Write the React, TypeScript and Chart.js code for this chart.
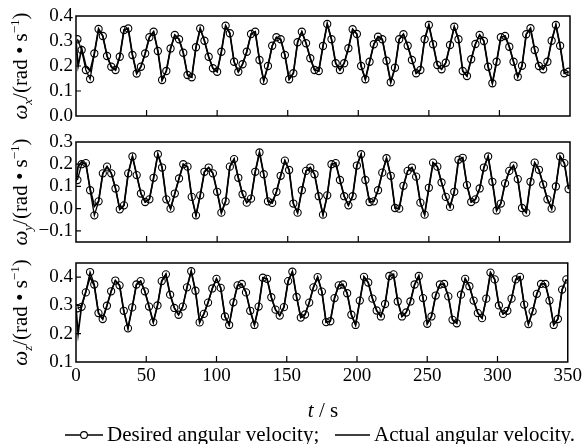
import React, { useEffect, useRef } from 'react';
import { Chart, registerables } from 'chart.js';

Chart.register(...registerables);

const W = 585;
const H = 444;
const FONT = '"Liberation Serif", "Times New Roman", serif';

// sample times of the desired signal (s)
const times = [
  1, 4, 7, 10, 13, 16, 19, 22, 25, 28,
  31, 34, 37, 40, 43, 46, 49, 52, 55, 58,
  61, 64, 67, 70, 73, 76, 79, 82, 85, 88,
  91, 94, 97, 100, 103, 106, 109, 112, 115, 118,
  121, 124, 127, 130, 133, 136, 139, 142, 145, 148,
  151, 154, 157, 160, 163, 166, 169, 172, 175, 178,
  181, 184, 187, 190, 193, 196, 199, 202, 205, 208,
  211, 214, 217, 220, 223, 226, 229, 232, 235, 238,
  241, 244, 247, 250, 253, 256, 259, 262, 265, 268,
  271, 274, 277, 280, 283, 286, 289, 292, 295, 298,
  301, 304, 307, 310, 313, 316, 319, 322, 325, 328,
  331, 334, 337, 340, 343, 346, 349,
];

const wxDesired = [
  0.307, 0.264, 0.184, 0.148, 0.25, 0.348, 0.32, 0.24, 0.197, 0.184,
  0.237, 0.344, 0.35, 0.244, 0.17, 0.197, 0.25, 0.315, 0.337, 0.26,
  0.144, 0.18, 0.27, 0.324, 0.307, 0.253, 0.164, 0.155, 0.275, 0.35,
  0.301, 0.237, 0.191, 0.177, 0.257, 0.361, 0.331, 0.217, 0.177, 0.207,
  0.257, 0.328, 0.337, 0.224, 0.141, 0.2, 0.281, 0.315, 0.307, 0.244,
  0.147, 0.171, 0.295, 0.337, 0.291, 0.231, 0.184, 0.18, 0.28, 0.368,
  0.307, 0.211, 0.184, 0.211, 0.271, 0.347, 0.328, 0.2, 0.147, 0.217,
  0.287, 0.317, 0.307, 0.221, 0.135, 0.193, 0.307, 0.327, 0.281, 0.224,
  0.171, 0.184, 0.307, 0.364, 0.287, 0.204, 0.187, 0.213, 0.284, 0.357,
  0.307, 0.18, 0.16, 0.227, 0.288, 0.324, 0.3, 0.197, 0.131, 0.217,
  0.315, 0.32, 0.277, 0.217, 0.157, 0.201, 0.327, 0.351, 0.264, 0.2,
  0.187, 0.217, 0.301, 0.364, 0.281, 0.171, 0.177,
];

const wyDesired = [
  0.129, 0.2, 0.205, 0.083, -0.03, 0.033, 0.159, 0.189, 0.159, 0.091,
  -0.003, 0.015, 0.159, 0.235, 0.151, 0.068, 0.03, 0.042, 0.139, 0.245,
  0.185, 0.042, 0.0, 0.068, 0.136, 0.2, 0.189, 0.053, -0.03, 0.06,
  0.166, 0.185, 0.159, 0.076, -0.018, 0.033, 0.189, 0.223, 0.139, 0.065,
  0.027, 0.045, 0.166, 0.253, 0.155, 0.033, 0.026, 0.076, 0.148, 0.216,
  0.174, 0.023, -0.018, 0.083, 0.17, 0.185, 0.155, 0.056, -0.027, 0.06,
  0.2, 0.205, 0.129, 0.056, 0.015, 0.056, 0.194, 0.245, 0.129, 0.03,
  0.033, 0.083, 0.162, 0.227, 0.148, 0.003, 0.0, 0.103, 0.17, 0.185,
  0.144, 0.027, -0.027, 0.094, 0.207, 0.189, 0.118, 0.053, 0.008, 0.076,
  0.22, 0.229, 0.106, 0.03, 0.042, 0.091, 0.185, 0.235, 0.121, -0.008,
  0.023, 0.114, 0.17, 0.194, 0.133, 0.003, -0.018, 0.121, 0.207, 0.175,
  0.109, 0.042, 0.0, 0.1, 0.235, 0.205, 0.088,
];

const wzDesired = [
  0.29, 0.295, 0.346, 0.418, 0.374, 0.273, 0.252, 0.299, 0.35, 0.388,
  0.371, 0.281, 0.219, 0.293, 0.374, 0.386, 0.35, 0.296, 0.241, 0.3,
  0.386, 0.41, 0.338, 0.291, 0.267, 0.296, 0.364, 0.421, 0.352, 0.24,
  0.27, 0.31, 0.36, 0.394, 0.362, 0.261, 0.231, 0.311, 0.371, 0.376,
  0.346, 0.281, 0.231, 0.296, 0.398, 0.394, 0.329, 0.285, 0.264, 0.294,
  0.386, 0.419, 0.33, 0.257, 0.268, 0.31, 0.364, 0.4, 0.349, 0.241,
  0.244, 0.326, 0.371, 0.374, 0.343, 0.267, 0.231, 0.317, 0.401, 0.381,
  0.324, 0.282, 0.261, 0.305, 0.404, 0.41, 0.314, 0.261, 0.275, 0.314,
  0.374, 0.404, 0.326, 0.235, 0.261, 0.335, 0.374, 0.376, 0.332, 0.249,
  0.237, 0.338, 0.394, 0.368, 0.317, 0.273, 0.255, 0.324, 0.416, 0.392,
  0.3, 0.27, 0.281, 0.324, 0.392, 0.401, 0.303, 0.234, 0.279, 0.341,
  0.376, 0.376, 0.317, 0.231, 0.252, 0.356, 0.392,
];

// start-up transient of the actual angular velocity (afterwards it tracks the desired one)
const actualStartTimes = [0, 1.5, 4, 7, 10, 13];
const wxActualStart = [0.3, 0.2, 0.27, 0.2, 0.18, 0.25];
const wyActualStart = [0.12, 0.19, 0.21, 0.2, 0.09, 0.01];
const wzActualStart = [0.29, 0.2, 0.3, 0.35, 0.4, 0.37];

const xTicks = [0, 50, 100, 150, 200, 250, 300, 350];
const yTicksX = [0, 0.1, 0.2, 0.3, 0.4];
const yTicksY = [-0.1, 0, 0.1, 0.2, 0.3];
const yTicksZ = [0.1, 0.2, 0.3, 0.4];

const legendDesired = 'Desired angular velocity;';
const legendActual = 'Actual angular velocity.';

type Panel = {
  sub: string;
  desired: number[];
  actualStart: number[];
  yTicks: number[];
  min: number;
  max: number;
  top: number;
  bottom: number;
  last: boolean;
};

const panels: Panel[] = [
  { sub: 'x', desired: wxDesired, actualStart: wxActualStart, yTicks: yTicksX, min: 0, max: 0.4, top: 16, bottom: 116, last: false },
  { sub: 'y', desired: wyDesired, actualStart: wyActualStart, yTicks: yTicksY, min: -0.15, max: 0.3, top: 142, bottom: 242, last: false },
  { sub: 'z', desired: wzDesired, actualStart: wzActualStart, yTicks: yTicksZ, min: 0.1, max: 0.45, top: 263, bottom: 362, last: true },
];

const PLOT_LEFT = 76;
const PLOT_RIGHT = 570;

function drawYTitle(ctx: CanvasRenderingContext2D, cx: number, cy: number, sub: string) {
  const big = 21;
  const small = 13;
  const parts = [
    { t: '\u03c9', f: `italic ${big}px ${FONT}`, dy: 0 },
    { t: sub, f: `italic ${small}px ${FONT}`, dy: 5 },
    { t: '/(rad \u2022 s', f: `${big}px ${FONT}`, dy: 0 },
    { t: '\u22121', f: `${small}px ${FONT}`, dy: -8 },
    { t: ')', f: `${big}px ${FONT}`, dy: 0 },
  ];
  ctx.save();
  ctx.translate(cx, cy);
  ctx.rotate(-Math.PI / 2);
  ctx.fillStyle = '#000';
  ctx.textBaseline = 'alphabetic';
  ctx.textAlign = 'left';
  let total = 0;
  const widths = parts.map((p) => {
    ctx.font = p.f;
    const w = ctx.measureText(p.t).width;
    total += w;
    return w;
  });
  let x = -total / 2;
  const base = 7;
  parts.forEach((p, i) => {
    ctx.font = p.f;
    ctx.fillText(p.t, x, base + p.dy);
    x += widths[i];
  });
  ctx.restore();
}

function drawBottom(ctx: CanvasRenderingContext2D) {
  ctx.save();
  ctx.fillStyle = '#000';
  ctx.strokeStyle = '#000';
  ctx.textBaseline = 'middle';
  // x title "t / s"
  const tyTitle = 411;
  ctx.font = `italic 21px ${FONT}`;
  const wt = ctx.measureText('t').width;
  ctx.font = `21px ${FONT}`;
  const wr = ctx.measureText(' / s').width;
  const x0 = (PLOT_LEFT + PLOT_RIGHT) / 2 - (wt + wr) / 2;
  ctx.font = `italic 21px ${FONT}`;
  ctx.textAlign = 'left';
  ctx.fillText('t', x0, tyTitle);
  ctx.font = `21px ${FONT}`;
  ctx.fillText(' / s', x0 + wt, tyTitle);

  // legend
  const ly = 435;
  ctx.lineWidth = 1.5;
  ctx.beginPath();
  ctx.moveTo(65, ly);
  ctx.lineTo(103, ly);
  ctx.moveTo(335, ly);
  ctx.lineTo(370, ly);
  ctx.stroke();
  ctx.beginPath();
  ctx.fillStyle = '#fff';
  ctx.lineWidth = 1.1;
  ctx.arc(84, ly, 3.4, 0, Math.PI * 2);
  ctx.fill();
  ctx.stroke();
  ctx.fillStyle = '#000';
  ctx.font = `21px ${FONT}`;
  ctx.fillText(legendDesired, 107, ly);
  ctx.fillText(legendActual, 374, ly);
  ctx.restore();
}

function makeConfig(p: Panel): any {
  const desiredPts = times.map((t, i) => ({ x: t, y: p.desired[i] }));
  const lastStart = actualStartTimes[actualStartTimes.length - 1];
  const actualPts = [
    ...actualStartTimes.map((t, i) => ({ x: t, y: p.actualStart[i] })),
    ...desiredPts.filter((d) => d.x > lastStart),
  ];
  const fmt = (v: number) => (v < -1e-9 ? '\u2212' : '') + Math.abs(v).toFixed(1);
  const decor = {
    id: 'decor',
    afterDatasetsDraw(chart: any) {
      const { ctx, chartArea: a, scales } = chart;
      ctx.save();
      ctx.strokeStyle = '#000';
      ctx.lineWidth = 1.5;
      ctx.strokeRect(a.left, a.top, a.right - a.left, a.bottom - a.top);
      ctx.lineWidth = 1.2;
      ctx.beginPath();
      for (const v of p.yTicks) {
        const y = scales.y.getPixelForValue(v);
        if (y > a.top + 1 && y < a.bottom - 1) {
          ctx.moveTo(a.left, y);
          ctx.lineTo(a.left + 5, y);
        }
      }
      for (const v of xTicks) {
        const x = scales.x.getPixelForValue(v);
        if (x > a.left + 1 && x < a.right - 1) {
          ctx.moveTo(x, a.bottom);
          ctx.lineTo(x, a.bottom - 6);
        }
      }
      ctx.stroke();
      ctx.restore();
    },
    afterDraw(chart: any) {
      const a = chart.chartArea;
      drawYTitle(chart.ctx, 20, (a.top + a.bottom) / 2, p.sub);
      if (p.last) drawBottom(chart.ctx);
    },
  };
  return {
    type: 'line',
    data: {
      datasets: [
        {
          label: 'Actual angular velocity',
          data: actualPts,
          borderColor: '#000',
          borderWidth: 1.7,
          pointRadius: 0,
          tension: 0,
          fill: false,
        },
        {
          label: 'Desired angular velocity',
          data: desiredPts,
          borderColor: '#000',
          borderWidth: 1.3,
          pointRadius: 3.6,
          pointBorderWidth: 1.1,
          pointBorderColor: '#000',
          pointBackgroundColor: 'rgba(0,0,0,0)',
          tension: 0,
          fill: false,
        },
      ],
    },
    options: {
      responsive: false,
      animation: false,
      devicePixelRatio: 1,
      events: [],
      layout: { padding: { top: p.top, right: W - PLOT_RIGHT, left: 0, bottom: 0 } },
      plugins: { legend: { display: false }, tooltip: { enabled: false }, title: { display: false } },
      scales: {
        x: {
          type: 'linear',
          min: 0,
          max: 350,
          grid: { display: false, drawTicks: false },
          border: { display: false },
          ticks: {
            display: p.last,
            font: { family: FONT, size: 19 },
            color: '#000',
            padding: 3,
            maxRotation: 0,
            autoSkip: false,
          },
          afterBuildTicks: (s: any) => {
            s.ticks = xTicks.map((v) => ({ value: v }));
          },
          afterFit: (s: any) => {
            s.height = H - p.bottom;
          },
        },
        y: {
          type: 'linear',
          min: p.min,
          max: p.max,
          grid: { display: false, drawTicks: false },
          border: { display: false },
          ticks: {
            font: { family: FONT, size: 19 },
            color: '#000',
            padding: 3,
            autoSkip: false,
            callback: (v: number) => fmt(v),
          },
          afterBuildTicks: (s: any) => {
            s.ticks = p.yTicks.map((v) => ({ value: v }));
          },
          afterFit: (s: any) => {
            s.width = PLOT_LEFT;
          },
        },
      },
    },
    plugins: [decor],
  };
}

export default function App() {
  const r0 = useRef<HTMLCanvasElement>(null);
  const r1 = useRef<HTMLCanvasElement>(null);
  const r2 = useRef<HTMLCanvasElement>(null);
  const refs = [r0, r1, r2];
  useEffect(() => {
    const charts = panels.map((p, i) => new Chart(refs[i].current as HTMLCanvasElement, makeConfig(p)));
    return () => charts.forEach((c) => c.destroy());
  }, []);
  return (
    <div style={{ position: 'fixed', left: 0, top: 0, width: W, height: H, background: '#fff', overflow: 'hidden' }}>
      {panels.map((p, i) => (
        <canvas
          key={p.sub}
          ref={refs[i]}
          width={W}
          height={H}
          style={{ position: 'absolute', left: 0, top: 0, width: W, height: H }}
        />
      ))}
    </div>
  );
}
